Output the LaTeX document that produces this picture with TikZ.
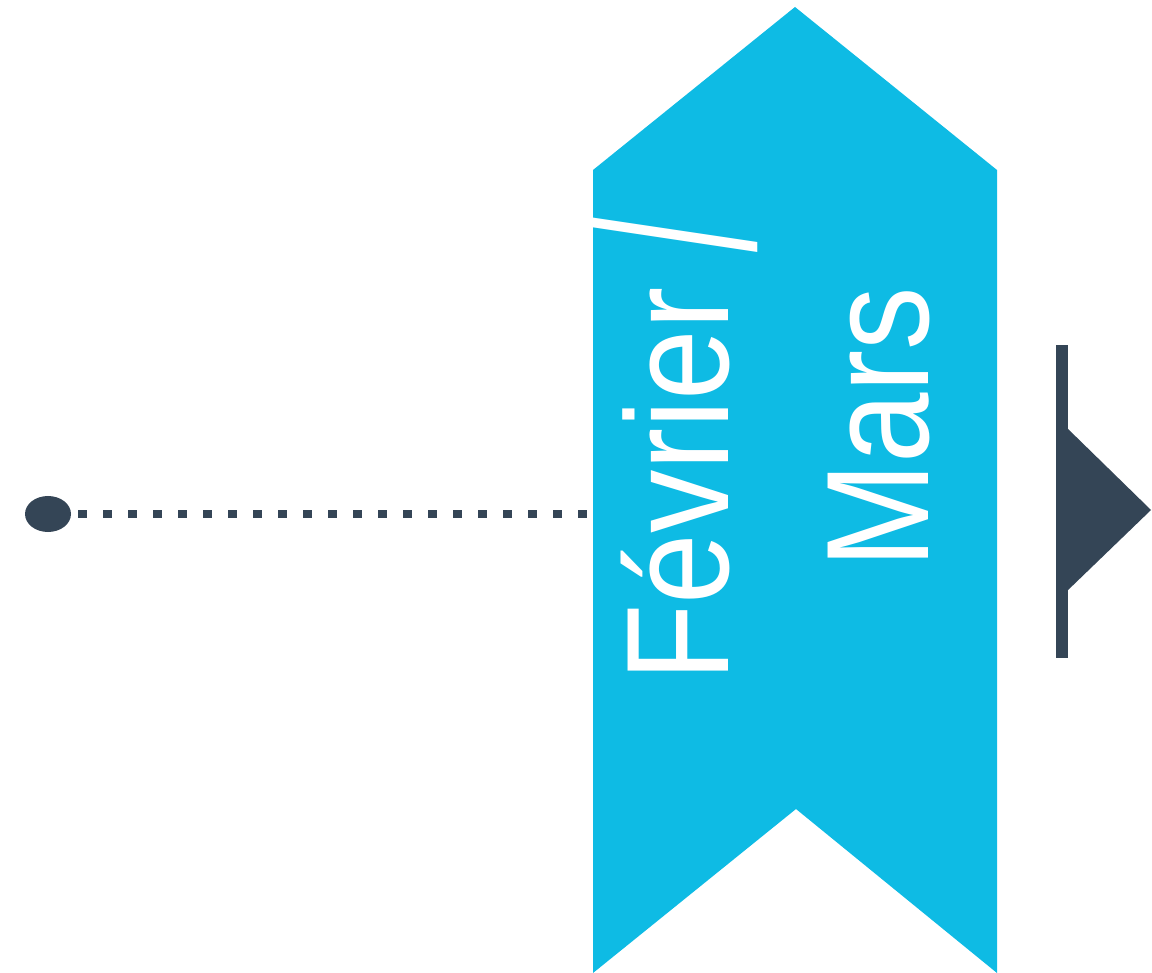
\documentclass[tikz,border=0pt]{standalone}
\usepackage{fontspec}
\newfontfamily\bannerfont[FakeStretch=0.868]{Liberation Sans}
\usetikzlibrary{shapes.geometric}
\definecolor{bannerblue}{RGB}{14,187,228}
\definecolor{darkslate}{RGB}{52,69,86}
\tikzset{
  bannertext/.style={rotate=90, anchor=base west, inner sep=0pt, text=white,
    font=\bannerfont\fontsize{146}{175}\selectfont},
  dotconn/.style={draw=darkslate, line width=8pt, dash pattern=on 9pt off 16pt},
  startdot/.style={ellipse, fill=darkslate, minimum width=46pt, minimum height=36pt, inner sep=0pt},
}
\begin{document}
\begin{tikzpicture}[x=1pt,y=-1pt]
\useasboundingbox (0,0) rectangle (1152,973);
% start dot and dotted connector
\node[startdot] (dot) at (48,514) {};
\coordinate (bannerleft) at (600,514);
\draw[dotconn] (dot.east) ++(7,0) -- (bannerleft);
% banner
\fill[bannerblue] (593,170) -- (795,7) -- (997,170) -- (997,973) -- (796,809) -- (593,973) -- cycle;
\node[bannertext] (feb) at (728,682) {Février \raisebox{-27pt}{\scalebox{1}[1.58]{/}}};
\node[bannertext] (mars) at (928,569) {Mars};
% marker on the right
\fill[darkslate] (1056,345) rectangle (1068,658);
\fill[darkslate, line join=round] (1066,427) -- (1151,510) -- (1066,592) -- cycle;
\end{tikzpicture}
\end{document}
